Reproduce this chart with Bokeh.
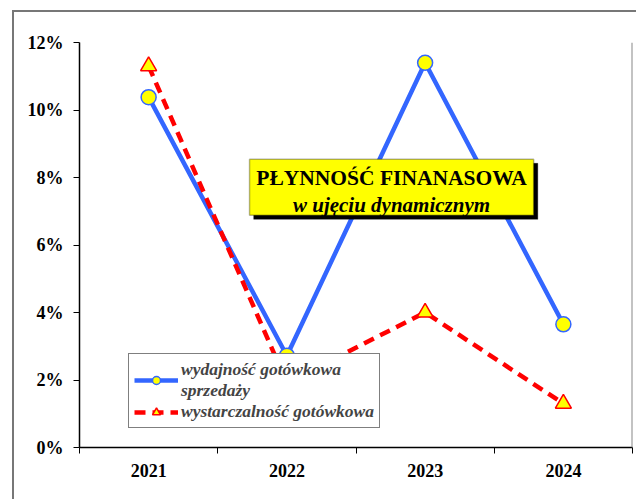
from bokeh.plotting import figure
from bokeh.models import (Range1d, LinearAxis, FixedTicker, InlineStyleSheet,
                          BoxAnnotation, Span, Legend, LegendItem, Label, ColumnDataSource)
from bokeh.embed import file_html
from bokeh.resources import INLINE

years = ["2021", "2022", "2023", "2024"]
wydajnosc = [10.38, 2.72, 11.4, 3.65]
wystarczalnosc = [11.3, 1.92, 4.0, 1.3]
y_ticks = [0, 2, 4, 6, 8, 10, 12]
y_tick_labels = {t: f"{t}%" for t in y_ticks}

FONT = "Liberation Serif"

# category slots: each year occupies one unit, centered at i + 0.5
xpos = [i + 0.5 for i in range(len(years))]
bounds = list(range(len(years) + 1))

p = figure(width=636, height=499, output_backend="svg", toolbar_location=None,
           x_range=Range1d(0, len(years)), y_range=Range1d(0, 12),
           x_axis_type=None, y_axis_type=None,
           min_border_left=79, min_border_right=4, min_border_top=42, min_border_bottom=52)
p.outline_line_color = None
p.background_fill_color = "white"
p.border_fill_color = "white"

# outer chart frame (left and top edges; the rest lies outside the picture)
p.stylesheets = [InlineStyleSheet(css=(
    ":host { position: relative; }"
    ":host::after { content: ''; position: absolute; left: 12px; top: 10px; right: 0; bottom: 0;"
    " border-left: 2px solid #777777; border-top: 2px solid #777777; pointer-events: none; }"
))]

# y axis
yax = LinearAxis(ticker=FixedTicker(ticks=y_ticks), major_label_overrides=y_tick_labels)
yax.axis_line_color = "black"
yax.axis_line_width = 1.5
yax.major_tick_line_color = "black"
yax.major_tick_in = 0
yax.major_tick_out = 6
yax.minor_tick_line_color = None
yax.major_label_text_font = FONT
yax.major_label_text_font_style = "bold"
yax.major_label_text_font_size = "18px"
yax.major_label_text_color = "black"
yax.major_label_standoff = 10
p.add_layout(yax, "left")

# x tick axis at category boundaries
xt = LinearAxis(ticker=FixedTicker(ticks=bounds))
xt.axis_line_color = "black"
xt.axis_line_width = 1.5
xt.major_tick_line_color = "black"
xt.major_tick_in = 0
xt.major_tick_out = 6
xt.minor_tick_line_color = None
xt.major_label_text_font_size = "0px"
xt.major_label_text_color = None
xt.major_label_standoff = 0
p.add_layout(xt, "below")

# x labels at category centers
xl = LinearAxis(ticker=FixedTicker(ticks=xpos),
                major_label_overrides={x: y for x, y in zip(xpos, years)})
xl.axis_line_color = None
xl.major_tick_line_color = None
xl.minor_tick_line_color = None
xl.major_label_text_font = FONT
xl.major_label_text_font_style = "bold"
xl.major_label_text_font_size = "18px"
xl.major_label_text_color = "black"
xl.major_label_standoff = 4
p.add_layout(xl, "below")

# grid
p.ygrid.ticker = FixedTicker(ticks=y_ticks[1:])
p.ygrid.grid_line_color = "black"
p.ygrid.grid_line_dash = "3 2"
p.ygrid.grid_line_width = 1
p.xgrid.grid_line_color = None

# right frame border
p.add_layout(Span(location=len(years), dimension="height", line_color="#888888", line_width=2))

src = ColumnDataSource(dict(x=xpos, a=wydajnosc, b=wystarczalnosc))
l1 = p.line("x", "a", source=src, line_color="#3366FF", line_width=4.5)
m1 = p.scatter("x", "a", source=src, marker="circle", size=15,
               fill_color="#FFFF00", line_color="#3366FF", line_width=1.5)
l2 = p.line("x", "b", source=src, line_color="#FF0000", line_width=4.5, line_dash="11 7")
m2 = p.scatter("x", "b", source=src, marker="triangle", size=16,
               fill_color="#FFFF00", line_color="#FF0000", line_width=1.5)

# title box with shadow
p.add_layout(BoxAnnotation(left=1.26, right=3.315, top=8.42, bottom=6.76,
                           fill_color="black", fill_alpha=1, line_color="black", level="overlay"))
p.add_layout(BoxAnnotation(left=1.23, right=3.285, top=8.54, bottom=6.88,
                           fill_color="#FFFF00", fill_alpha=1, line_color="black",
                           line_width=1.5, level="overlay"))
p.add_layout(Label(x=2.257, y=8.0, text="PŁYNNOŚĆ FINANASOWA", text_align="center",
                   text_baseline="middle", text_font=FONT, text_font_style="bold",
                   text_font_size="21.5px", text_color="black", level="overlay"))
p.add_layout(Label(x=2.257, y=7.2, text="w ujęciu dynamicznym", text_align="center",
                   text_baseline="middle", text_font=FONT, text_font_style="bold italic",
                   text_font_size="21px", text_color="black", level="overlay"))

legend = Legend(items=[
    LegendItem(label="wydajność gotówkowa\nsprzedaży", renderers=[l1, m1]),
    LegendItem(label="wystarczalność gotówkowa", renderers=[l2, m2]),
], location=(49, 19))
legend.label_text_font = FONT
legend.label_text_font_style = "bold italic"
legend.label_text_font_size = "17.5px"
legend.label_text_line_height = 0.9
legend.glyph_width = 44
legend.label_standoff = 3
legend.spacing = 0
legend.padding = 5
legend.margin = 0
legend.border_line_color = "black"
legend.border_line_width = 1.5
legend.background_fill_alpha = 1
p.add_layout(legend, "center")

open("out.html", "w").write(file_html(p, INLINE))
